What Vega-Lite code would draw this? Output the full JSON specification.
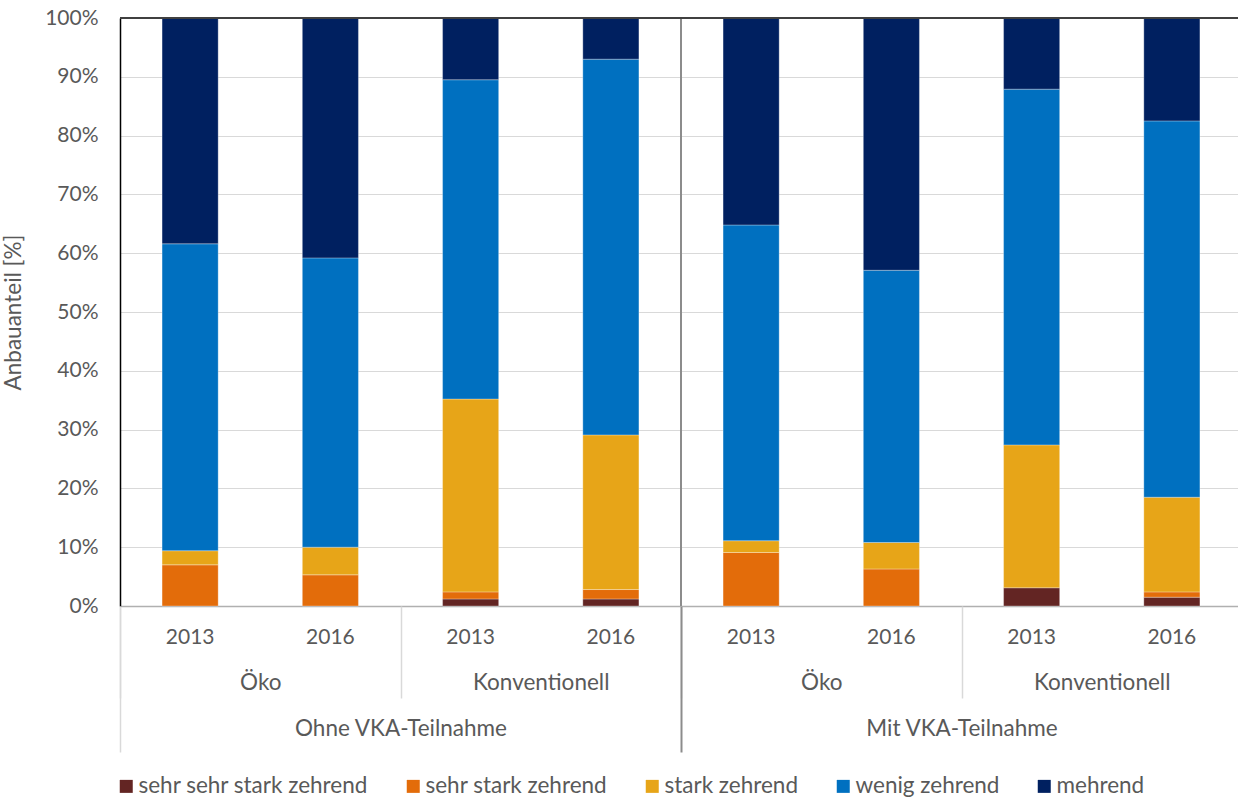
{
  "$schema": "https://vega.github.io/schema/vega-lite/v6.json",
  "width": 1122,
  "height": 588,
  "autosize": {"type": "none"},
  "padding": {"left": 120, "top": 18, "right": 0, "bottom": 192},
  "config": {
    "font": "Lato",
    "view": {"stroke": null},
    "axis": {"labelColor": "#595959", "labelFont": "Lato", "labelFontSize": 21, "titleColor": "#595959", "titleFont": "Lato", "titleFontWeight": "normal", "titleFontSize": 22.5, "labelLimit": 400}
  },
  "data": {
    "values": [
      {"vka": "Ohne VKA-Teilnahme", "type": "Öko", "year": "2013", "cat": "sehr stark zehrend", "value": 7.0},
      {"vka": "Ohne VKA-Teilnahme", "type": "Öko", "year": "2013", "cat": "stark zehrend", "value": 2.4},
      {"vka": "Ohne VKA-Teilnahme", "type": "Öko", "year": "2013", "cat": "wenig zehrend", "value": 52.2},
      {"vka": "Ohne VKA-Teilnahme", "type": "Öko", "year": "2013", "cat": "mehrend", "value": 38.4},
      {"vka": "Ohne VKA-Teilnahme", "type": "Öko", "year": "2016", "cat": "sehr stark zehrend", "value": 5.3},
      {"vka": "Ohne VKA-Teilnahme", "type": "Öko", "year": "2016", "cat": "stark zehrend", "value": 4.7},
      {"vka": "Ohne VKA-Teilnahme", "type": "Öko", "year": "2016", "cat": "wenig zehrend", "value": 49.2},
      {"vka": "Ohne VKA-Teilnahme", "type": "Öko", "year": "2016", "cat": "mehrend", "value": 40.8},
      {"vka": "Ohne VKA-Teilnahme", "type": "Konventionell", "year": "2013", "cat": "sehr sehr stark zehrend", "value": 1.2},
      {"vka": "Ohne VKA-Teilnahme", "type": "Konventionell", "year": "2013", "cat": "sehr stark zehrend", "value": 1.2},
      {"vka": "Ohne VKA-Teilnahme", "type": "Konventionell", "year": "2013", "cat": "stark zehrend", "value": 32.8},
      {"vka": "Ohne VKA-Teilnahme", "type": "Konventionell", "year": "2013", "cat": "wenig zehrend", "value": 54.3},
      {"vka": "Ohne VKA-Teilnahme", "type": "Konventionell", "year": "2013", "cat": "mehrend", "value": 10.5},
      {"vka": "Ohne VKA-Teilnahme", "type": "Konventionell", "year": "2016", "cat": "sehr sehr stark zehrend", "value": 1.2},
      {"vka": "Ohne VKA-Teilnahme", "type": "Konventionell", "year": "2016", "cat": "sehr stark zehrend", "value": 1.6},
      {"vka": "Ohne VKA-Teilnahme", "type": "Konventionell", "year": "2016", "cat": "stark zehrend", "value": 26.3},
      {"vka": "Ohne VKA-Teilnahme", "type": "Konventionell", "year": "2016", "cat": "wenig zehrend", "value": 63.9},
      {"vka": "Ohne VKA-Teilnahme", "type": "Konventionell", "year": "2016", "cat": "mehrend", "value": 7.0},
      {"vka": "Mit VKA-Teilnahme", "type": "Öko", "year": "2013", "cat": "sehr stark zehrend", "value": 9.1},
      {"vka": "Mit VKA-Teilnahme", "type": "Öko", "year": "2013", "cat": "stark zehrend", "value": 2.0},
      {"vka": "Mit VKA-Teilnahme", "type": "Öko", "year": "2013", "cat": "wenig zehrend", "value": 53.7},
      {"vka": "Mit VKA-Teilnahme", "type": "Öko", "year": "2013", "cat": "mehrend", "value": 35.2},
      {"vka": "Mit VKA-Teilnahme", "type": "Öko", "year": "2016", "cat": "sehr stark zehrend", "value": 6.3},
      {"vka": "Mit VKA-Teilnahme", "type": "Öko", "year": "2016", "cat": "stark zehrend", "value": 4.5},
      {"vka": "Mit VKA-Teilnahme", "type": "Öko", "year": "2016", "cat": "wenig zehrend", "value": 46.3},
      {"vka": "Mit VKA-Teilnahme", "type": "Öko", "year": "2016", "cat": "mehrend", "value": 42.9},
      {"vka": "Mit VKA-Teilnahme", "type": "Konventionell", "year": "2013", "cat": "sehr sehr stark zehrend", "value": 3.1},
      {"vka": "Mit VKA-Teilnahme", "type": "Konventionell", "year": "2013", "cat": "stark zehrend", "value": 24.3},
      {"vka": "Mit VKA-Teilnahme", "type": "Konventionell", "year": "2013", "cat": "wenig zehrend", "value": 60.5},
      {"vka": "Mit VKA-Teilnahme", "type": "Konventionell", "year": "2013", "cat": "mehrend", "value": 12.1},
      {"vka": "Mit VKA-Teilnahme", "type": "Konventionell", "year": "2016", "cat": "sehr sehr stark zehrend", "value": 1.5},
      {"vka": "Mit VKA-Teilnahme", "type": "Konventionell", "year": "2016", "cat": "sehr stark zehrend", "value": 0.9},
      {"vka": "Mit VKA-Teilnahme", "type": "Konventionell", "year": "2016", "cat": "stark zehrend", "value": 16.1},
      {"vka": "Mit VKA-Teilnahme", "type": "Konventionell", "year": "2016", "cat": "wenig zehrend", "value": 64.0},
      {"vka": "Mit VKA-Teilnahme", "type": "Konventionell", "year": "2016", "cat": "mehrend", "value": 17.5}
    ]
  },
  "resolve": {"scale": {"x": "independent"}, "axis": {"x": "independent"}},
  "layer": [
    {
      "transform": [
        {"calculate": "datum.vka + '|' + datum.type + '|' + datum.year", "as": "bar"},
        {"calculate": "indexof(['sehr sehr stark zehrend', 'sehr stark zehrend', 'stark zehrend', 'wenig zehrend', 'mehrend'], datum.cat)", "as": "ord"}
      ],
      "mark": {"type": "bar", "stroke": "white", "strokeWidth": 0.6, "strokeOpacity": 0.5},
      "encoding": {
        "x": {
          "field": "bar", "type": "nominal", "sort": null,
          "scale": {"paddingInner": 0.6, "paddingOuter": 0.3},
          "axis": {"orient": "bottom", "title": null, "labelExpr": "split(datum.value, '|')[2]", "labelAngle": 0, "ticks": false, "domainColor": "#b0b0b0", "domainWidth": 1.5, "labelPadding": 20, "grid": false}
        },
        "y": {
          "field": "value", "type": "quantitative", "stack": "normalize",
          "scale": {"domain": [0, 1]},
          "axis": {"values": [0, 0.1, 0.2, 0.3, 0.4, 0.5, 0.6, 0.7, 0.8, 0.9, 1], "format": ".0%", "title": "Anbauanteil [%]", "ticks": false, "labelPadding": 22, "domainColor": "#000000", "domainWidth": 1.5, "gridColor": "#d9d9d9", "gridWidth": 1, "titlePadding": 19}
        },
        "order": {"field": "ord", "type": "quantitative", "sort": "ascending"},
        "color": {
          "field": "cat", "type": "nominal",
          "sort": ["sehr sehr stark zehrend", "sehr stark zehrend", "stark zehrend", "wenig zehrend", "mehrend"],
          "scale": {"domain": ["sehr sehr stark zehrend", "sehr stark zehrend", "stark zehrend", "wenig zehrend", "mehrend"], "range": ["#632523", "#E36C0A", "#E7A518", "#0070C0", "#002060"]},
          "legend": {"orient": "none", "legendX": -5, "legendY": 757, "direction": "horizontal", "title": null, "symbolType": "square", "symbolSize": 169, "symbolStrokeWidth": 0, "labelFontSize": 22.5, "labelColor": "#595959", "labelFont": "Lato", "labelOffset": 1, "columnPadding": 33, "labelLimit": 400}
        }
      }
    },
    {
      "transform": [{"calculate": "datum.vka + '|' + datum.type", "as": "grp"}],
      "mark": {"type": "rule", "opacity": 0},
      "encoding": {
        "x": {
          "field": "grp", "type": "nominal", "sort": null,
          "scale": {"type": "band", "paddingInner": 0, "paddingOuter": 0},
          "axis": {"orient": "bottom", "title": null, "labelExpr": "split(datum.value, '|')[1]", "labelAngle": 0, "labelFontSize": 22.5, "domain": false, "grid": false, "tickBand": "extent", "tickSize": 92, "tickColor": "#d9d9d9", "tickWidth": 1.5, "labelPadding": -27}
        }
      }
    },
    {
      "transform": [
        {"filter": "datum.vka === 'Mit VKA-Teilnahme'"},
        {"aggregate": [{"op": "count", "as": "n"}], "groupby": ["vka"]}
      ],
      "mark": {"type": "rule", "color": "#8c8c8c", "strokeWidth": 2},
      "encoding": {
        "x": {
          "field": "vka", "type": "nominal", "bandPosition": 0,
          "scale": {"type": "band", "domain": ["Ohne VKA-Teilnahme", "Mit VKA-Teilnahme"], "paddingInner": 0, "paddingOuter": 0},
          "axis": {"orient": "bottom", "title": null, "labelAngle": 0, "labelFontSize": 22.5, "domain": false, "grid": false, "tickBand": "extent", "tickSize": 146, "zindex": 1,
            "tickColor": {"condition": {"test": "datum.index === 0", "value": "#8c8c8c"}, "value": "#d9d9d9"},
            "tickWidth": {"condition": {"test": "datum.index === 0", "value": 2}, "value": 1.5},
            "labelPadding": -35, "labelLimit": 400}
        }
      }
    },
    {
      "mark": {"type": "rule", "color": "#404040", "strokeWidth": 2},
      "encoding": {"y": {"datum": 1}}
    }
  ]
}
